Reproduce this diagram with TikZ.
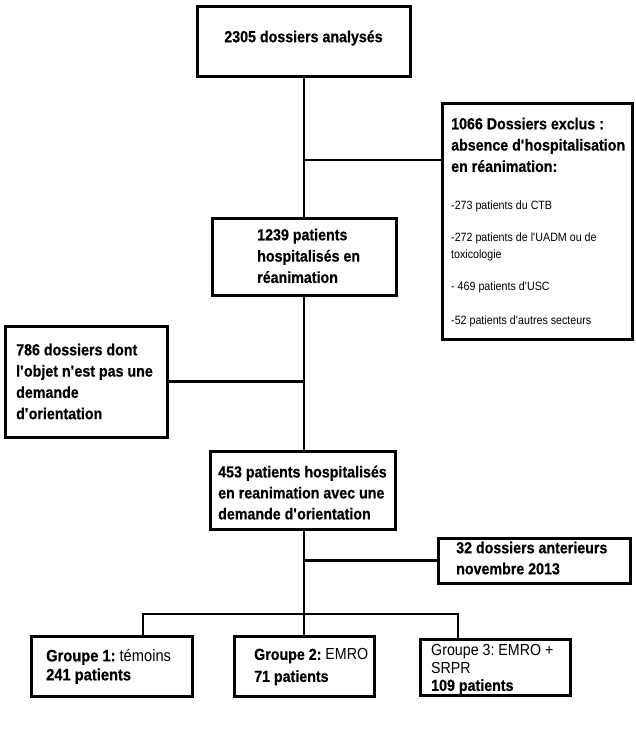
\documentclass[tikz,border=0pt]{standalone}
\usepackage{fontspec}
\setmainfont[FakeStretch=0.89,BoldFeatures={FakeBold=0.6}]{Liberation Sans}
\newcommand{\ap}{\textquotesingle}
\frenchspacing
\begin{document}
\begin{tikzpicture}[x=1pt,y=-1pt,
  box/.style={draw,line width=3pt,inner sep=0pt},
  conn/.style={line width=2.6pt},
  txt/.style={anchor=north west,align=left,inner sep=0pt},
  big/.style={font=\bfseries\fontsize{16}{21.3}\selectfont},
  small/.style={font=\fontsize{12}{17}\selectfont}]
\useasboundingbox (0,0) rectangle (635,738);
% box 1
\node[box,minimum width=213pt,minimum height=70pt] (b1) at (303.5,42) {};
\node[big,inner sep=0pt] (b1t) at (303.5,38) {2305 dossiers analysés};
% excluded
\node[box,minimum width=190pt,minimum height=235pt] (excl) at (537,221.5) {};
\node[txt,big] (exh) at (451,117.5) {1066 Dossiers exclus :\\absence d\ap hospitalisation\\en réanimation:};
\node[txt,small] (exi) at (451,201) {-273 patients du CTB\\[15pt]-272 patients de l\ap UADM ou de\\toxicologie\\[15pt]- 469 patients d\ap USC\\[17pt]-52 patients d\ap autres secteurs};
% 1239
\node[box,minimum width=184pt,minimum height=77pt] (b2) at (304,256.5) {};
\node[txt,big] (b2t) at (257,228.5) {1239 patients\\hospitalisés en\\réanimation};
% 786
\node[box,minimum width=162pt,minimum height=111pt] (n786) at (86,381.5) {};
\node[txt,big] (n786t) at (16,343.5) {786 dossiers dont\\l\ap objet n\ap est pas une\\demande\\d\ap orientation};
% 453
\node[box,minimum width=185pt,minimum height=78pt] (b3) at (302.5,490) {};
\node[txt,big,font=\bfseries\fontsize{16}{21}\selectfont] (b3t) at (218,465.5) {453 patients hospitalisés\\en reanimation avec une\\demande d\ap orientation};
% 32
\node[box,minimum width=192pt,minimum height=45pt] (n32) at (534,560.5) {};
\node[txt,big,font=\bfseries\fontsize{16}{21}\selectfont] (n32t) at (456,541.5) {32 dossiers anterieurs\\novembre 2013};
% groups
\node[box,minimum width=161pt,minimum height=60pt] (g1) at (111.5,666) {};
\node[txt,font=\fontsize{16.5}{19}\selectfont] (g1t) at (46,649) {\textbf{Groupe 1:} témoins\\\textbf{241 patients}};
\node[box,minimum width=140pt,minimum height=60pt] (g2) at (304,666) {};
\node[txt,font=\fontsize{16}{22}\selectfont] (g2t) at (254,648.5) {\textbf{Groupe 2:} EMRO\\\textbf{71 patients}};
\node[box,minimum width=150pt,minimum height=56pt] (g3) at (495,667) {};
\node[txt,font=\fontsize{16}{17.5}\selectfont] (g3t) at (431,644.5) {Groupe 3: EMRO +\\SRPR\\\textbf{109 patients}};
% coordinates
\coordinate (trunk) at (304,0);
\coordinate (j1) at (304,160);
\coordinate (branch) at (304,614);
\coordinate (s1) at (143,614);
\coordinate (s3) at (458,614);
% connectors
\draw[conn] (b1.south -| trunk) -- (b2.north -| trunk);
\draw[conn] (j1) -- (j1 -| excl.west);
\draw[conn] (b2.south -| trunk) -- (b3.north -| trunk);
\draw[conn] (n786.east) -- (n786.east -| trunk);
\draw[conn] (b3.south -| trunk) -- (branch);
\draw[conn] (n32.west) -- (n32.west -| trunk);
\draw[conn] (g1.north -| s1) -- (s1) -- (s3) -- (g3.north -| s3);
\draw[conn] (branch) -- (g2.north -| trunk);
\end{tikzpicture}
\end{document}
